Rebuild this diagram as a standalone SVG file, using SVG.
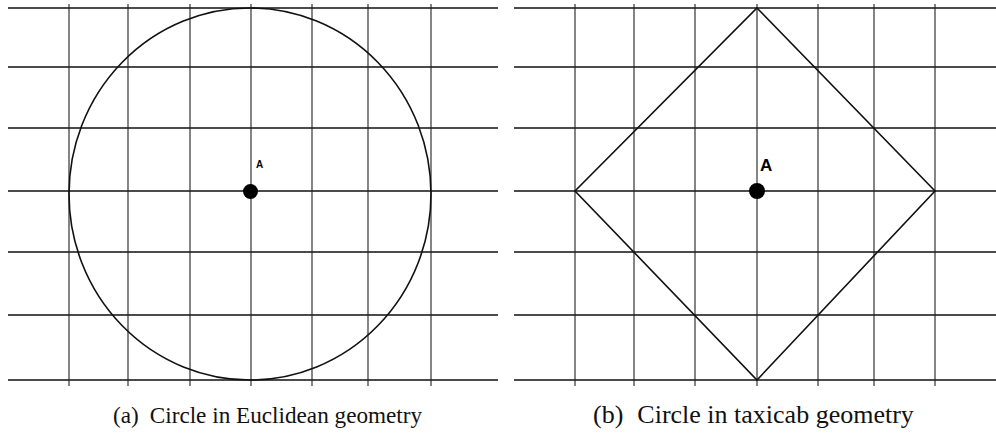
<svg xmlns="http://www.w3.org/2000/svg" width="996" height="435" viewBox="0 0 996 435">
<style>
.h{stroke:#111;stroke-width:1.6;fill:none}
.v{stroke:#222;stroke-width:1.1;fill:none}
.shape{stroke:#111;stroke-width:1.6;fill:none}
.dot{fill:#000}
.cap{font-family:"Liberation Serif","Times New Roman",serif;fill:#111}
.lbl{font-family:"Liberation Sans",Arial,sans-serif;font-weight:bold;fill:#000}
</style>
<rect width="996" height="435" fill="#fff"/>
<g id="grid-a">
<path class="h" d="M8 8H498M8 67H498M8 128H498M8 191H498M8 252H498M8 315H498M8 380H498"/>
<path class="v" d="M69 4V386M128 4V386M190 4V386M251 4V386M312 4V386M368 4V386M431 4V386"/>
</g>
<g id="grid-b">
<path class="h" d="M514 8H996M514 67H996M514 128H996M514 191H996M514 252H996M514 315H996M514 380H996"/>
<path class="v" d="M575 4V386M634 4V386M695 4V386M757 4V386M818 4V386M874 4V386M935 4V386"/>
</g>
<g id="circle-a">
<ellipse class="shape" cx="250" cy="194" rx="181" ry="186"/>
</g>
<g id="point-a">
<circle class="dot" cx="250.5" cy="191.5" r="7.5"/>
<text class="lbl" x="256" y="168" font-size="10">A</text>
</g>
<g id="diamond-b">
<polygon class="shape" points="757,8 935,191 757,380 575,191"/>
</g>
<g id="point-b">
<circle class="dot" cx="757" cy="191" r="8"/>
<text class="lbl" x="760" y="171" font-size="17">A</text>
</g>
<text class="cap" x="113" y="423" font-size="23.2">(a)<tspan dx="11">Circle in Euclidean geometry</tspan></text>
<text class="cap" x="593" y="423" font-size="26">(b)<tspan dx="14">Circle in taxicab geometry</tspan></text>
</svg>
